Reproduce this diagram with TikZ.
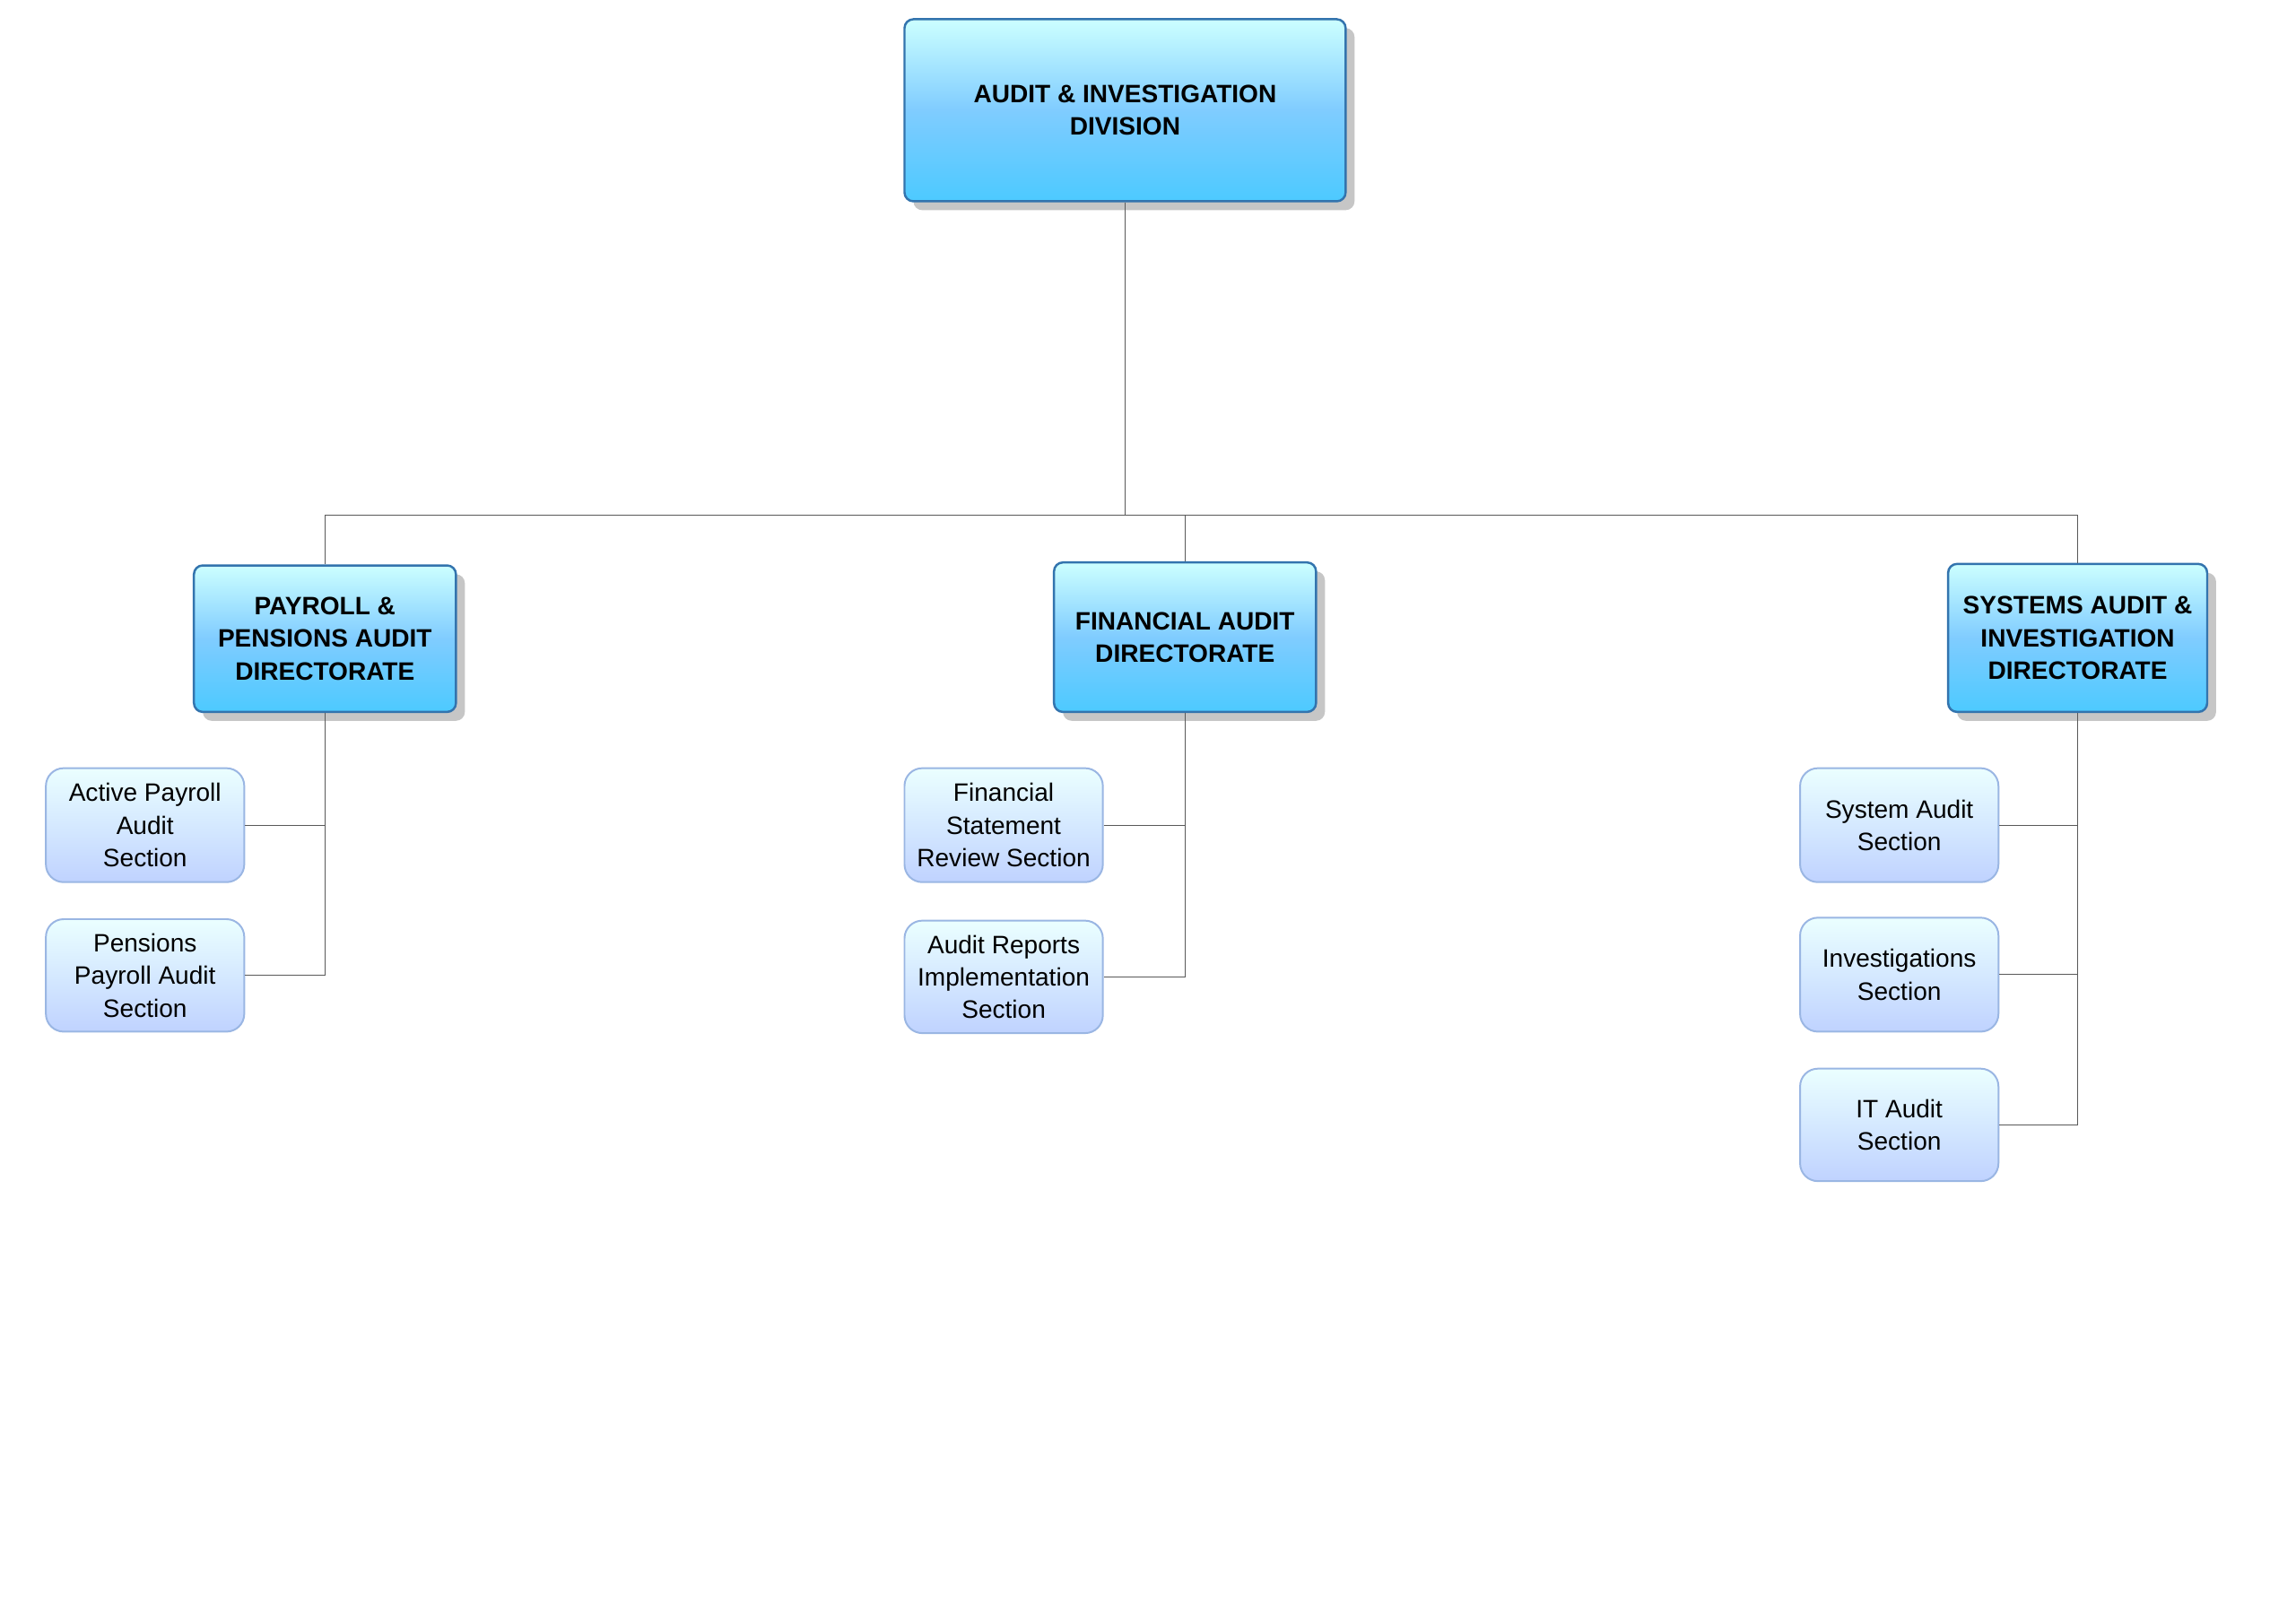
\documentclass[tikz,border=0pt]{standalone}
\usepackage{fontspec}
\setmainfont{Liberation Sans}
\usetikzlibrary{shadows}
\begin{document}
\begin{tikzpicture}[x=1pt,y=-1pt,
 dir/.style={draw=cyan!60!blue!80!black,line width=1.5pt,rounded corners=6pt,top color=cyan!20,bottom color=cyan!70!blue!70,middle color=cyan!60!blue!50,
   drop shadow={shadow xshift=6pt,shadow yshift=-6pt,opacity=0.45},font=\fontsize{17}{22}\selectfont\bfseries,align=center,inner sep=0pt},
 sec/.style={draw=cyan!50!blue!40,line width=1.2pt,rounded corners=12pt,top color=cyan!8,bottom color=cyan!30!blue!25,
   font=\fontsize{17}{22}\selectfont,align=center,inner sep=0pt},
 ln/.style={draw=gray!70!black,line width=0.6pt}]
\useasboundingbox (0,0) rectangle (1551,1097);
\newcommand\bx[6]{\node[#1,minimum width=#4-#2,minimum height=#5-#3] (#6) at ({(#2+#4)/2},{(#3+#5)/2})}
\bx{dir}{611}{13}{909}{136}{top} {AUDIT \& INVESTIGATION\\DIVISION};
\bx{dir}{131}{382}{308}{481}{pay} {PAYROLL \&\\PENSIONS AUDIT\\DIRECTORATE};
\bx{dir}{712}{380}{889}{481}{fin} {FINANCIAL AUDIT\\DIRECTORATE};
\bx{dir}{1316}{381}{1491}{481}{sys} {SYSTEMS AUDIT \&\\INVESTIGATION\\DIRECTORATE};
\bx{sec}{31}{519}{165}{596}{p1} {Active Payroll\\Audit\\Section};
\bx{sec}{31}{621}{165}{697}{p2} {Pensions\\Payroll Audit\\Section};
\bx{sec}{611}{519}{745}{596}{f1} {Financial\\Statement\\Review Section};
\bx{sec}{611}{622}{745}{698}{f2} {Audit Reports\\Implementation\\Section};
\bx{sec}{1216}{519}{1350}{596}{s1} {System Audit\\Section};
\bx{sec}{1216}{620}{1350}{697}{s2} {Investigations\\Section};
\bx{sec}{1216}{722}{1350}{798}{s3} {IT Audit\\Section};
\coordinate (bus) at (760,348);
\draw[ln] (top.south) -- (bus);
\draw[ln] (pay.north) |- (bus) -| (sys.north);
\draw[ln] (fin.north) -- (fin.north |- bus);
\draw[ln] (pay.south) |- (p2.east); \draw[ln] (p1.east) -- (p1.east -| pay.south);
\draw[ln] (fin.south) |- (f2.east); \draw[ln] (f1.east) -- (f1.east -| fin.south);
\draw[ln] (sys.south) |- (s3.east); \draw[ln] (s1.east) -- (s1.east -| sys.south);
\draw[ln] (s2.east) -- (s2.east -| sys.south);
\end{tikzpicture}
\end{document}
